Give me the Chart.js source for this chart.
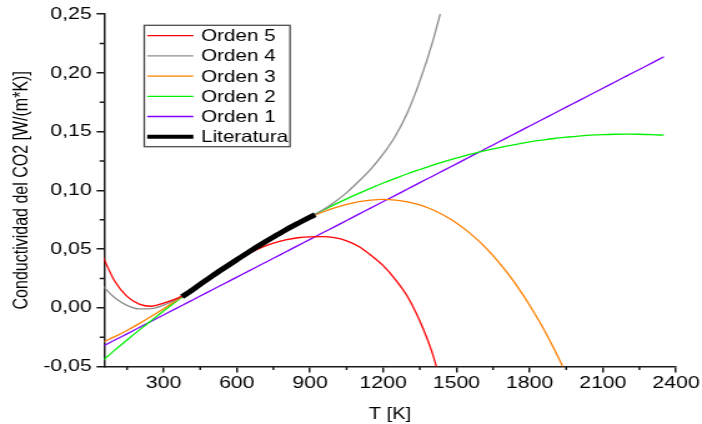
<!DOCTYPE html>
<html>
<head>
<meta charset="utf-8">
<script src="https://cdn.jsdelivr.net/npm/chart.js@4/dist/chart.umd.min.js"></script>
<style>
  html, body { margin: 0; padding: 0; background: #fff; overflow: hidden; }
  #wrap { width: 702px; height: 424px; overflow: hidden; }
  /* the plot is laid out on a narrower canvas and widened horizontally */
  #c { display: block; transform: scaleX(1.2491); transform-origin: 0 0; }
</style>
</head>
<body>
<div id="wrap"><canvas id="c" width="562" height="424"></canvas></div>
<script>
// Temperatures (K) at which the fitted polynomials are evaluated
const temps = [50, 100, 150, 200, 250, 300, 350, 400, 450, 500, 550, 600, 650, 700, 750, 800,
  850, 900, 950, 1000, 1050, 1100, 1150, 1200, 1250, 1300, 1350, 1400, 1450, 1500, 1550, 1600,
  1650, 1700, 1750, 1800, 1850, 1900, 1950, 2000, 2050, 2100, 2150, 2200, 2250, 2300, 2350];

// Thermal conductivity of CO2, W/(m*K), for each polynomial order
const orden5 = [0.0440, 0.0225, 0.0097, 0.0031, 0.0013, 0.0040, 0.0076, 0.0125, 0.0198, 0.0270,
  0.0338, 0.0403, 0.0462, 0.0512, 0.0550, 0.0578, 0.0596, 0.0604, 0.0605, 0.0597, 0.0570, 0.0522,
  0.0447, 0.0358, 0.0240, 0.0094, -0.0113, -0.0378, -0.0740];
const orden4 = [0.0185, 0.0085, 0.0020, -0.0010, -0.0008, 0.0022, 0.0068, 0.0127, 0.0200, 0.0272,
  0.0342, 0.0411, 0.0478, 0.0541, 0.0603, 0.0663, 0.0719, 0.0773, 0.0830, 0.0898, 0.0980, 0.1077,
  0.1183, 0.1310, 0.1463, 0.1665, 0.1930, 0.2246, 0.2630];
const orden3 = [-0.0294, -0.0246, -0.0193, -0.0135, -0.0073, -0.0008, 0.0060, 0.0129, 0.0199, 0.0270,
  0.0340, 0.0410, 0.0478, 0.0543, 0.0606, 0.0665, 0.0719, 0.0769, 0.0813, 0.0850, 0.0880, 0.0903,
  0.0917, 0.0922, 0.0917, 0.0902, 0.0876, 0.0837, 0.0786, 0.0722, 0.0644, 0.0552, 0.0444, 0.0320,
  0.0180, 0.0022, -0.0154, -0.0348, -0.0562];
const orden2 = [-0.0450, -0.0361, -0.0274, -0.0190, -0.0108, -0.0027, 0.0051, 0.0127, 0.0201, 0.0273,
  0.0343, 0.0411, 0.0477, 0.0540, 0.0602, 0.0661, 0.0719, 0.0774, 0.0827, 0.0878, 0.0927, 0.0974,
  0.1019, 0.1062, 0.1102, 0.1141, 0.1177, 0.1212, 0.1244, 0.1274, 0.1303, 0.1329, 0.1353, 0.1374,
  0.1394, 0.1412, 0.1427, 0.1441, 0.1452, 0.1462, 0.1469, 0.1474, 0.1477, 0.1478, 0.1477, 0.1474,
  0.1469];
const orden1 = [-0.0329, -0.0275, -0.0222, -0.0168, -0.0115, -0.0061, -0.0007, 0.0046, 0.0100, 0.0153,
  0.0207, 0.0261, 0.0314, 0.0368, 0.0421, 0.0475, 0.0529, 0.0582, 0.0636, 0.0689, 0.0743, 0.0797,
  0.0850, 0.0904, 0.0957, 0.1011, 0.1065, 0.1118, 0.1172, 0.1225, 0.1279, 0.1333, 0.1386, 0.1440,
  0.1493, 0.1547, 0.1601, 0.1654, 0.1708, 0.1761, 0.1815, 0.1869, 0.1922, 0.1976, 0.2029, 0.2083,
  0.2137];

// Literature values
const litTemps = [375, 400, 450, 500, 550, 600, 650, 700, 750, 800, 850, 900, 921];
const litK = [0.0094, 0.0127, 0.0200, 0.0272, 0.0341, 0.0409, 0.0476, 0.0540, 0.0602, 0.0662,
  0.0718, 0.0772, 0.0792];

// Axis ticks
const xTicks = [300, 600, 900, 1200, 1500, 1800, 2100, 2400];
const xMinor = [150, 450, 750, 1050, 1350, 1650, 1950, 2250];
const yTicks = [-0.05, 0, 0.05, 0.10, 0.15, 0.20, 0.25];
const yMinor = [-0.025, 0.025, 0.075, 0.125, 0.175, 0.225];

const FONT = "'Liberation Sans', Arial, sans-serif";
const AXIS = '#1a1a1a';
const AXIS_W = 1.5;

const pts = (xs, ys) => ys.map((v, i) => ({ x: xs[i], y: v }));
const curve = (label, color, values) => ({
  label, data: pts(temps, values), borderColor: color, backgroundColor: color,
  borderWidth: 1.3, clip: 0, cubicInterpolationMode: 'monotone'
});

// Literatura first so it is painted on top of the fits
const datasets = [
  { label: 'Literatura', data: pts(litTemps, litK), borderColor: '#000', backgroundColor: '#000',
    borderWidth: 5, clip: 0, cubicInterpolationMode: 'monotone' },
  curve('Orden 5', '#ff0000', orden5),
  curve('Orden 4', '#8c8c8c', orden4),
  curve('Orden 3', '#ff8000', orden3),
  curve('Orden 2', '#00f000', orden2),
  curve('Orden 1', '#8000ff', orden1)
];
const legendOrder = [1, 2, 3, 4, 5, 0];

// small outward ticks between the labelled ones
const minorTicks = {
  id: 'minorTicks',
  afterDraw(chart) {
    const { ctx, scales: { x, y } } = chart;
    ctx.save();
    ctx.strokeStyle = AXIS;
    ctx.lineWidth = AXIS_W;
    ctx.beginPath();
    xMinor.forEach(v => {
      const px = x.getPixelForValue(v);
      ctx.moveTo(px, x.top);
      ctx.lineTo(px, x.top + 3.5);
    });
    yMinor.forEach(v => {
      const py = y.getPixelForValue(v);
      ctx.moveTo(y.right, py);
      ctx.lineTo(y.right - 3.5, py);
    });
    ctx.stroke();
    ctx.restore();
  }
};

// framed legend in the upper left of the plot
const legendBox = {
  id: 'legendBox',
  afterDraw(chart) {
    const ctx = chart.ctx;
    const box = { left: 115.5, top: 25.3, right: 232.2, bottom: 146.7 };
    ctx.save();
    ctx.fillStyle = '#fff';
    ctx.fillRect(box.left, box.top, box.right - box.left, box.bottom - box.top);
    ctx.strokeStyle = '#4d4d4d';
    ctx.lineWidth = 1.3;
    ctx.strokeRect(box.left, box.top, box.right - box.left, box.bottom - box.top);
    ctx.font = '16.5px ' + FONT;
    ctx.textBaseline = 'middle';
    ctx.textAlign = 'left';
    legendOrder.forEach((idx, i) => {
      const ds = chart.data.datasets[idx];
      const yy = 35.7 + i * 20.2;
      ctx.strokeStyle = ds.borderColor;
      ctx.lineWidth = Math.min(ds.borderWidth, 4);
      ctx.beginPath();
      ctx.moveTo(117.9, yy);
      ctx.lineTo(154.8, yy);
      ctx.stroke();
      ctx.fillStyle = '#000';
      ctx.fillText(ds.label, 161, yy + 1);
    });
    ctx.restore();
  }
};

new Chart(document.getElementById('c'), {
  type: 'line',
  data: { datasets },
  options: {
    responsive: false,
    devicePixelRatio: 1,
    animation: false,
    layout: { padding: { top: 13.7, right: 20.8, bottom: 0, left: 0 } },
    elements: { point: { radius: 0 }, line: { tension: 0 } },
    plugins: { legend: { display: false }, tooltip: { enabled: false } },
    scales: {
      x: {
        type: 'linear', min: 56, max: 2400,
        afterBuildTicks: s => { s.ticks = xTicks.map(v => ({ value: v })); },
        afterFit: s => { s.height = 57.5; },
        ticks: { font: { family: FONT, size: 17 }, color: '#000', padding: 0.6,
                 maxRotation: 0, autoSkip: false, callback: v => String(v) },
        grid: { drawOnChartArea: false, drawTicks: true, tickLength: 6, tickWidth: AXIS_W,
                tickColor: AXIS, color: AXIS, lineWidth: AXIS_W },
        border: { display: true, color: AXIS, width: AXIS_W },
        title: { display: true, text: 'T [K]', font: { family: FONT, size: 16 }, color: '#000',
                 padding: { top: 0, bottom: 0.2 } }
      },
      y: {
        type: 'linear', min: -0.05, max: 0.25,
        afterBuildTicks: s => { s.ticks = yTicks.map(v => ({ value: v })); },
        afterFit: s => { s.width = 83.3; },
        ticks: { font: { family: FONT, size: 17 }, color: '#000', padding: 3.9,
                 callback: v => v.toFixed(2).replace('.', ',') },
        grid: { drawOnChartArea: false, drawTicks: true, tickLength: 6, tickWidth: AXIS_W,
                tickColor: AXIS, color: AXIS, lineWidth: AXIS_W },
        border: { display: true, color: AXIS, width: AXIS_W },
        title: { display: true, text: 'Conductividad del CO2 [W/(m*K)]',
                 font: { family: FONT, size: 16 }, color: '#000', padding: { top: 7.8, bottom: 0 } }
      }
    }
  },
  plugins: [minorTicks, legendBox]
});
</script>
</body>
</html>
